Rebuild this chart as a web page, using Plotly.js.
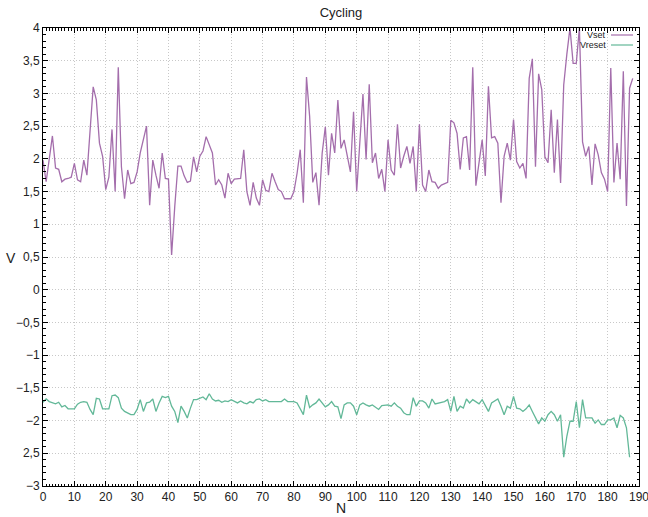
<!DOCTYPE html>
<html><head><meta charset="utf-8">
<script src="https://cdn.plot.ly/plotly-3.0.1.min.js"></script>
<style>html,body{margin:0;padding:0;background:#fff}#chart{width:648px;height:517px}</style>
</head><body><div id="chart"></div>
<script>
const vset = [1.98,1.65,2.00,2.35,1.86,1.84,1.65,1.69,1.70,1.72,
1.93,1.68,1.65,1.98,1.75,2.40,3.10,2.90,2.24,2.04,
1.53,1.72,2.45,1.50,3.40,1.88,1.39,1.83,1.62,1.64,
1.80,2.09,2.30,2.50,1.29,1.98,1.75,1.55,2.09,1.70,
1.69,0.53,1.27,1.89,1.89,1.74,1.64,1.66,2.03,1.80,
2.04,2.12,2.34,2.21,2.09,1.60,1.68,1.60,1.40,1.78,
1.62,1.69,1.70,1.70,2.14,1.50,1.29,1.64,1.40,1.29,
1.68,1.52,1.50,1.78,1.65,1.53,1.50,1.39,1.39,1.39,
1.50,1.78,2.14,1.33,3.25,2.65,1.64,1.79,1.29,2.09,
2.49,1.75,2.39,2.09,2.90,2.16,2.29,2.05,1.80,2.72,
1.50,2.25,2.99,1.99,3.14,1.94,2.09,1.70,1.84,1.50,
2.29,1.83,1.75,2.53,1.86,2.04,2.19,1.93,2.19,1.50,
2.53,1.60,1.50,1.83,1.65,1.64,1.55,1.60,1.62,1.64,
2.59,2.55,2.39,1.84,2.32,2.34,1.83,3.40,1.59,1.93,
2.29,1.74,3.11,2.32,2.34,2.24,1.33,2.04,2.24,1.98,
2.60,1.96,1.86,1.93,1.70,3.23,3.53,1.88,3.30,3.06,
2.03,1.94,2.75,1.79,2.60,1.63,3.13,3.60,4.00,3.46,
3.46,4.00,2.26,2.04,2.19,1.60,2.23,2.06,1.79,1.69,
1.50,3.39,1.64,2.24,1.69,3.34,1.28,3.08,3.23];

const vreset = [-1.72,-1.67,-1.71,-1.73,-1.745,-1.72,-1.79,-1.77,-1.82,-1.82,
-1.82,-1.75,-1.72,-1.71,-1.72,-1.83,-1.91,-1.66,-1.67,-1.82,
-1.82,-1.82,-1.62,-1.61,-1.65,-1.81,-1.86,-1.88,-1.91,-1.91,
-1.83,-1.68,-1.86,-1.73,-1.72,-1.67,-1.86,-1.73,-1.63,-1.65,
-1.63,-1.78,-1.86,-2.03,-1.78,-1.86,-1.96,-1.81,-1.68,-1.68,
-1.66,-1.64,-1.68,-1.59,-1.67,-1.70,-1.69,-1.72,-1.70,-1.71,
-1.68,-1.70,-1.73,-1.70,-1.73,-1.745,-1.71,-1.73,-1.68,-1.67,
-1.70,-1.68,-1.71,-1.71,-1.71,-1.71,-1.71,-1.67,-1.71,-1.71,
-1.71,-1.73,-1.83,-1.91,-1.61,-1.80,-1.76,-1.73,-1.67,-1.73,
-1.79,-1.76,-1.71,-1.78,-1.79,-1.97,-1.76,-1.73,-1.73,-1.78,
-1.91,-1.76,-1.73,-1.76,-1.78,-1.76,-1.80,-1.83,-1.77,-1.76,
-1.76,-1.78,-1.73,-1.78,-1.81,-1.88,-1.91,-1.91,-1.65,-1.78,
-1.70,-1.70,-1.73,-1.81,-1.67,-1.745,-1.73,-1.72,-1.71,-1.68,
-1.86,-1.63,-1.86,-1.78,-1.81,-1.67,-1.73,-1.68,-1.71,-1.745,
-1.68,-1.78,-1.86,-1.73,-1.70,-1.67,-1.78,-1.91,-1.78,-1.81,
-1.63,-1.81,-1.82,-1.86,-1.82,-1.76,-1.86,-1.95,-2.05,-1.96,
-2.01,-1.91,-1.86,-1.91,-2.01,-1.91,-2.56,-2.24,-2.01,-2.01,
-1.71,-2.11,-1.68,-1.96,-1.96,-1.96,-2.04,-1.99,-2.06,-2.06,
-1.99,-1.99,-1.96,-2.11,-1.92,-1.96,-2.11,-2.56];

const xTickVals = [0,10,20,30,40,50,60,70,80,90,100,110,120,130,140,150,160,170,180,190];
const xTickText = ["0","10","20","30","40","50","60","70","80","90","100","110","120","130","140","150","160","170","180","190"];
const yTickVals = [4,3.5,3,2.5,2,1.5,1,0.5,0,-0.5,-1,-1.5,-2,-2.5,-3];
const yTickText = ["4","3,5","3","2,5","2","1,5","1","0,5","0","\u22120,5","\u22121","\u22121,5","\u22122","2,5","\u22123"];
const seriesNames = ["Vset","Vreset"];
const seriesColors = ["#a46eac","#62b898"];

const nSet = vset.map((_, i) => i);
const nReset = vreset.map((_, i) => i);

const traces = [
  {x: nSet, y: vset, type: 'scatter', mode: 'lines', name: seriesNames[0],
   line: {color: seriesColors[0], width: 1.3}},
  {x: nReset, y: vreset, type: 'scatter', mode: 'lines', name: seriesNames[1],
   line: {color: seriesColors[1], width: 1.3}}
];

const axisCommon = {
  ticks: 'inside', ticklen: 5, tickcolor: '#000', tickwidth: 1,
  showline: true, linecolor: '#000', linewidth: 1, mirror: 'ticks',
  showgrid: true, gridcolor: '#c8c8c8', griddash: '1px,2px', gridwidth: 1,
  zeroline: false, tickfont: {size: 12, color: '#222'}, ticklabeloverflow: 'allow'
};

const layout = {
  width: 648, height: 517,
  margin: {l: 43, r: 9, t: 28, b: 31},
  paper_bgcolor: '#fff', plot_bgcolor: '#fff',
  font: {family: 'Liberation Sans, Arial, sans-serif', color: '#222'},
  showlegend: false,
  title: {text: 'Cycling', font: {size: 13, color: '#222'}, x: 0.5, xref: 'paper',
          y: 1 - 12/517, yref: 'container', yanchor: 'middle'},
  xaxis: Object.assign({}, axisCommon, {
    range: [0, 190], tickmode: 'array', tickvals: xTickVals, ticktext: xTickText,
    minor: {ticks: 'inside', tickmode: 'linear', tick0: 0, dtick: 1, ticklen: 2.5, tickcolor: '#000', showgrid: false}
  }),
  yaxis: Object.assign({}, axisCommon, {
    range: [-3, 4], tickmode: 'array', tickvals: yTickVals, ticktext: yTickText,
    minor: {ticks: 'inside', tickmode: 'linear', tick0: 0, dtick: 0.1, ticklen: 2.5, tickcolor: '#000', showgrid: false}
  }),
  annotations: [
    {text: 'N', xref: 'paper', yref: 'paper', x: 0.5, y: -(508-486)/458, showarrow: false,
     xanchor: 'center', yanchor: 'middle', font: {size: 14, color: '#222'}},
    {text: 'V', xref: 'paper', yref: 'paper', x: (11-43)/596, y: (486-258)/458, showarrow: false,
     xanchor: 'center', yanchor: 'middle', font: {size: 14, color: '#222'}},
    {text: seriesNames[0], xref: 'paper', yref: 'paper', x: (608-43)/596, y: (486-35)/458, showarrow: false,
     xanchor: 'right', yanchor: 'middle', font: {size: 9, color: '#222'}},
    {text: seriesNames[1], xref: 'paper', yref: 'paper', x: (608-43)/596, y: (486-45)/458, showarrow: false,
     xanchor: 'right', yanchor: 'middle', font: {size: 9, color: '#222'}}
  ],
  shapes: [
    {type: 'line', xref: 'paper', yref: 'paper', x0: (611-43)/596, x1: (633-43)/596,
     y0: (486-35)/458, y1: (486-35)/458, line: {color: seriesColors[0], width: 1.2}},
    {type: 'line', xref: 'paper', yref: 'paper', x0: (611-43)/596, x1: (633-43)/596,
     y0: (486-45)/458, y1: (486-45)/458, line: {color: seriesColors[1], width: 1.2}}
  ]
};

Plotly.newPlot('chart', traces, layout, {displayModeBar: false, staticPlot: true});
</script>
</body></html>
